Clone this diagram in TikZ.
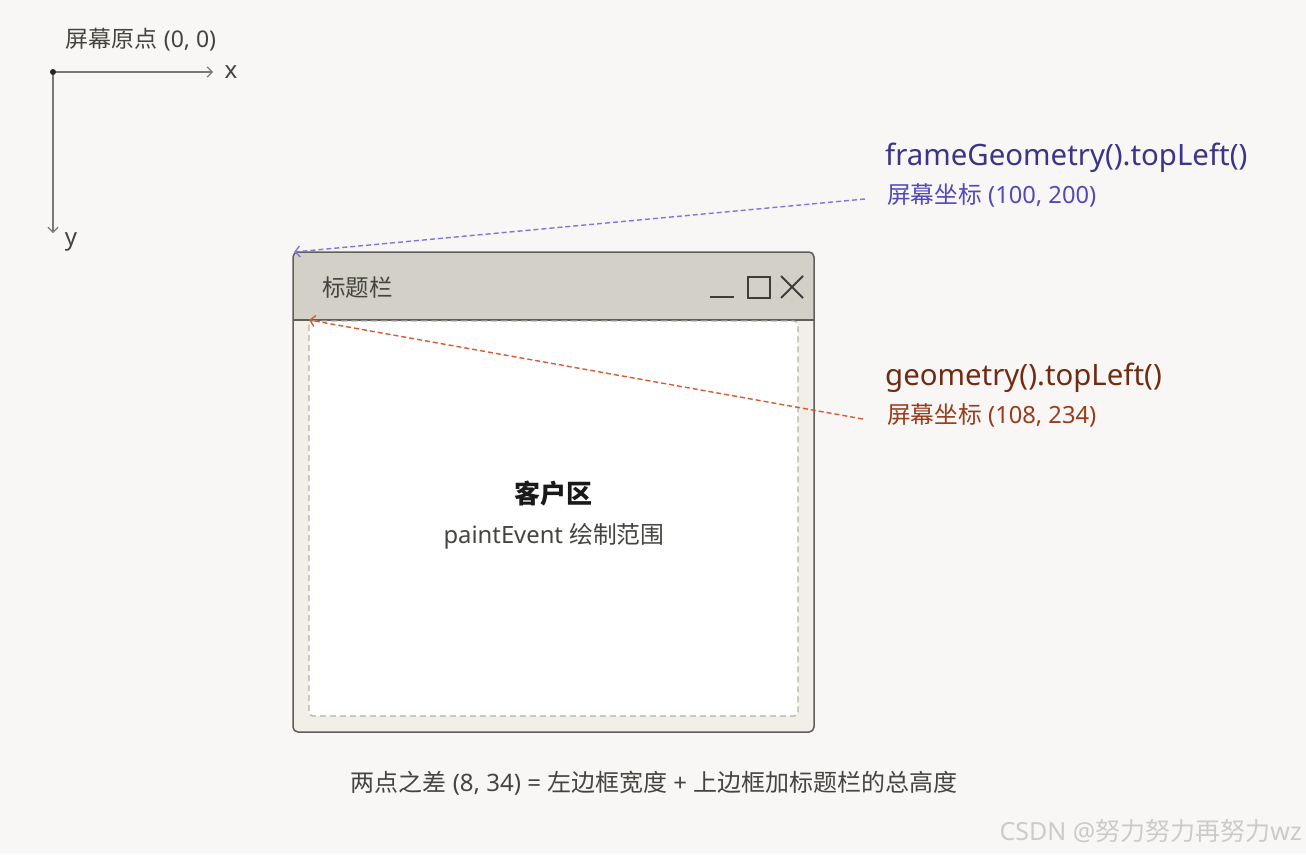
\documentclass[tikz,border=0pt]{standalone}
\usepackage{fontspec}
\setmainfont{Noto Sans}
\newfontfamily\cjk{Noto Sans CJK SC}
\usetikzlibrary{arrows.meta}
\definecolor{bg}{HTML}{F8F7F5}
\definecolor{winfill}{HTML}{F1EFE8}
\definecolor{titlefill}{HTML}{D3D1C7}
\definecolor{edgegray}{HTML}{5F5E5A}
\definecolor{dashgray}{HTML}{B4B2A9}
\definecolor{axisgray}{HTML}{7A7974}
\definecolor{txt}{HTML}{444441}
\definecolor{bluedark}{HTML}{3C3489}
\definecolor{bluemid}{HTML}{534AB7}
\definecolor{bluearr}{HTML}{7F77DD}
\definecolor{orgdark}{HTML}{712B13}
\definecolor{orgmid}{HTML}{993C1D}
\definecolor{orgarr}{HTML}{D85A30}
\definecolor{wmark}{HTML}{CBCBCB}
\tikzset{
  lbl/.style={inner sep=0pt, text=txt},
  axisline/.style={draw=axisgray, line width=1.2pt, -{Straight Barb[length=5pt,width=10pt]}},
  pointer/.style={line width=1.4pt, dash pattern=on 5pt off 3pt, -{Straight Barb[length=5pt,width=11pt]}},
  ctrl/.style={draw=txt!90!black, line width=2pt},
}
\newcommand{\fs}[1]{\fontsize{#1}{#1}\selectfont}
\begin{document}
\begin{tikzpicture}[x=1pt,y=-1pt]
\fill[bg] (0,0) rectangle (1306,854);
\useasboundingbox (0,0) rectangle (1306,854);

% axes
\node[lbl, anchor=center] (origlbl) at (141,40) {\fs{23}{\cjk 屏幕原点} (0, 0)};
\coordinate (o) at (53,72);
\coordinate (xend) at (213,72);
\coordinate (yend) at (53,233);
\draw[axisline] (o) -- (xend);
\draw[axisline] (o) -- (yend);
\fill[black!85] (o) circle (3);
\node[lbl, anchor=center] (xlbl) at (231,72) {\fs{24}x};
\node[lbl, anchor=center] (ylbl) at (71,242) {\fs{24}y};

% window
\fill[winfill, rounded corners=5] (293,252) rectangle (814,732);
\fill[titlefill, rounded corners=5] (293,252) rectangle (814,300);
\fill[titlefill] (293,280) rectangle (814,320);
\draw[edgegray, line width=1.2pt] (293,320) -- (814,320);
\fill[white, rounded corners=4] (309,321) rectangle (798,716);
\draw[dashgray, line width=1.3pt, dash pattern=on 6pt off 4pt, rounded corners=4] (309,321) rectangle (798,716);
\draw[edgegray, line width=1.5pt, rounded corners=5] (293,252) rectangle (814,732);
\coordinate (ftl) at (294,252);
\coordinate (gtl) at (309,320);

\node[lbl, anchor=west] (title) at (322,288) {\fs{23.5}\cjk 标题栏};
\draw[ctrl] (710,297) -- (734,297);
\draw[ctrl] (747.5,276.5) rectangle (769.5,297.5);
\draw[ctrl] (781,276) -- (803,298);
\draw[ctrl] (781,298) -- (803,276);

\node[lbl, anchor=center, text=black!90] (client) at (553,494) {\fs{26}\cjk\bfseries 客户区};
\node[lbl, anchor=center] (paint) at (554,536) {\fs{23.8}paintEvent {\cjk 绘制范围}};

% labels
\node[lbl, anchor=west, text=bluedark] (fgeo) at (885,158) {\fs{29.4}frameGeometry().topLeft()};
\node[lbl, anchor=west, text=bluemid] (fsub) at (887,195) {\fs{23.7}{\cjk 屏幕坐标} (100, 200)};
\node[lbl, anchor=west, text=orgdark] (geo) at (885,378) {\fs{29.4}geometry().topLeft()};
\node[lbl, anchor=west, text=orgmid] (gsub) at (887,415) {\fs{23.7}{\cjk 屏幕坐标} (108, 234)};

\draw[pointer, draw=bluearr] ([xshift=-22pt,yshift=-4pt]fsub.west) -- (ftl);
\draw[pointer, draw=orgarr] ([xshift=-24pt,yshift=-4pt]gsub.west) -- (gtl);

\node[lbl, anchor=center] (diff) at (654,783) {\fs{24}{\cjk 两点之差} (8, 34) = {\cjk 左边框宽度} + {\cjk 上边框加标题栏的总高度}};
\node[lbl, anchor=east, text=wmark] (wm) at (1302,831) {\fs{25}CSDN @{\cjk 努力努力再努力}wz};
\end{tikzpicture}
\end{document}
